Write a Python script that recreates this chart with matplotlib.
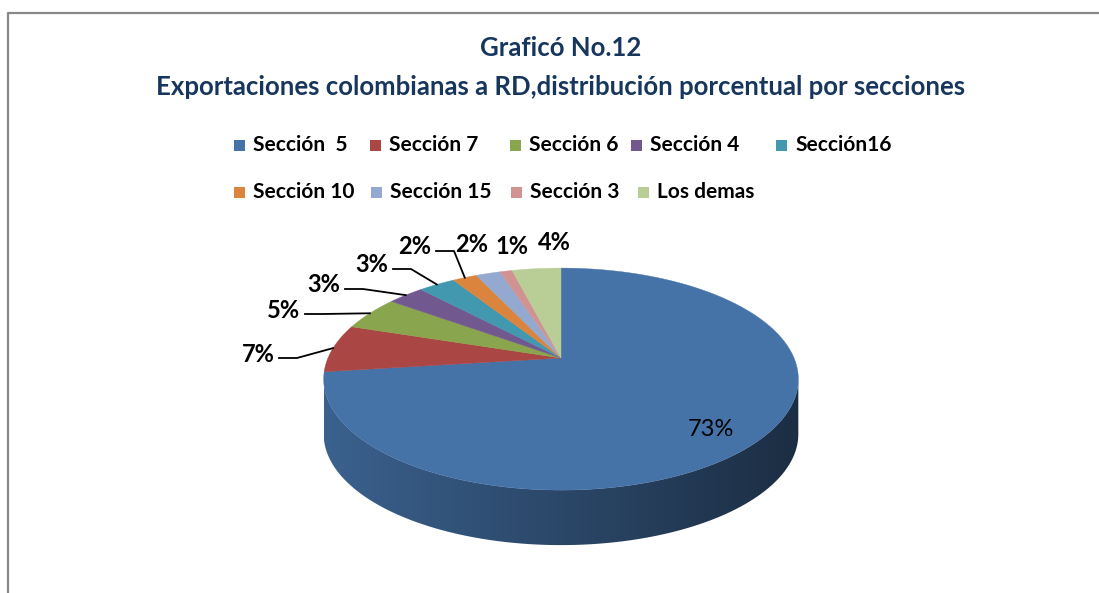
import numpy as np
import matplotlib
matplotlib.use("Agg")
import matplotlib.pyplot as plt
from matplotlib.patches import Polygon, Rectangle
from matplotlib.colors import to_rgb

plt.rcParams['font.family'] = ['Lato', 'DejaVu Sans']

# datos
secciones = ["Sección  5", "Sección 7", "Sección 6", "Sección 4", "Sección16",
             "Sección 10", "Sección 15", "Sección 3", "Los demas"]
porcentajes = [73, 7, 5, 3, 3, 2, 2, 1, 4]
colores = ["#4572A7", "#AA4643", "#89A54E", "#71588F", "#4198AF",
           "#DB843D", "#93A9CF", "#D19392", "#B9CD96"]
titulo = "Graficó No.12\nExportaciones colombianas a RD,distribución porcentual por secciones"

# layout (pixel coords of the 1099x593 picture)
cx, cy = 561, 358          # apex of the pie
A, B, k = 233, 107, 0.19   # ellipse size and perspective
depth = 55
legend_pos = [(234, 145), (370, 145), (510, 145), (631, 145), (776, 145),
              (234, 192), (371, 192), (511, 192), (638, 192)]
label_pos = [(711, 430), (258, 354), (284, 310), (324, 285), (372, 265),
             (415, 247), (472, 245), (512, 247), (554, 242)]


def rim(theta_deg):
    t = np.radians(theta_deg)
    x, y = np.cos(t), np.sin(t)
    d = 1 + k * y
    return cx + A * x / d, cy - B * y / d


fig = plt.figure(figsize=(10.99, 5.93), dpi=100)
ax = fig.add_axes([0, 0, 1, 1])
ax.set_xlim(0, 1099)
ax.set_ylim(593, 0)
ax.axis("off")

# frame
ax.plot([8, 8, 1099], [593, 13, 13], color="#888888", lw=1.6, solid_capstyle="butt")

total = float(sum(porcentajes))
edges = 90 - 360 * np.concatenate([[0], np.cumsum(porcentajes)]) / total

# side of the pie (front half only), shaded left to right
off = np.degrees(np.arcsin(k))
vis_lo, vis_hi = -180 + off, -off
xmin, xmax = rim(180 + off)[0], rim(-off)[0]
for i, c in enumerate(colores):
    lo = max(edges[i + 1], vis_lo)
    hi = min(edges[i], vis_hi)
    if lo >= hi:
        continue
    ts = np.linspace(lo, hi, 300)
    top = [rim(t) for t in ts]
    bot = [(x, y + depth) for x, y in top[::-1]]
    side = Polygon(top + bot, closed=True, facecolor="none", edgecolor="none")
    ax.add_patch(side)
    base = np.array(to_rgb(c))
    xs = np.linspace(xmin, xmax, 400)
    f = 0.85 - 0.45 * (xs - xmin) / (xmax - xmin)
    grad = np.clip(base[None, None, :] * f[None, :, None], 0, 1)
    ys = [p[1] for p in top + bot]
    im = ax.imshow(grad, extent=(xmin, xmax, max(ys) + 1, min(ys) - 1),
                   aspect="auto", interpolation="bilinear", zorder=1)
    im.set_clip_path(side)

# top face
for i, c in enumerate(colores):
    ts = np.linspace(edges[i], edges[i + 1], 200)
    pts = [(cx, cy)] + [rim(t) for t in ts]
    ax.add_patch(Polygon(pts, closed=True, facecolor=c, edgecolor=c, lw=0.3, zorder=2))

ax.set_xlim(0, 1099)
ax.set_ylim(593, 0)

# data labels
for i, p in enumerate(porcentajes):
    lx, ly = label_pos[i]
    txt = "%d%%" % p
    if i == 0:
        ax.text(lx, ly, txt, ha="center", va="center", fontsize=17, color="black", zorder=3)
        continue
    ax.text(lx, ly, txt, ha="center", va="center", fontsize=17, fontweight="bold",
            color="black", zorder=3)
    if 1 <= i <= 5:
        mid = (edges[i] + edges[i + 1]) / 2
        ex, ey = rim(mid)
        sx = lx + 21
        ax.plot([sx, sx + 18, ex], [ly + 4, ly + 4, ey], color="black", lw=1.3, zorder=3)

# legend
for i, name in enumerate(secciones):
    mx, my = legend_pos[i]
    ax.add_patch(Rectangle((mx, my - 5.5), 11, 11, facecolor=colores[i], edgecolor="none"))
    ax.text(mx + 19, my, name, ha="left", va="center", fontsize=15, fontweight="bold",
            color="black")

# title
lineas = titulo.split("\n")
ax.text(561, 48, lineas[0], ha="center", va="center", fontsize=18.5, fontweight="bold",
        color="#17365D")
ax.text(561, 87, lineas[1], ha="center", va="center", fontsize=18.5, fontweight="bold",
        color="#17365D")

plt.savefig("out.png", dpi=100)
